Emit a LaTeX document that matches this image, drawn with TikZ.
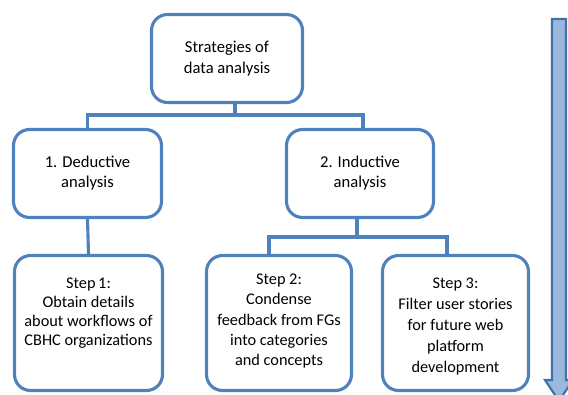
\documentclass[tikz,border=0pt]{standalone}
\usepackage{fontspec}
\setmainfont{Carlito}
\usetikzlibrary{calc}
\definecolor{boxblue}{HTML}{4F81BD}
\definecolor{arrowfill}{HTML}{9AB7DE}
\definecolor{arrowdraw}{HTML}{4470A8}
\begin{document}
\begin{tikzpicture}[x=1pt,y=-1pt,
  box/.style={draw=boxblue, line width=3.1pt, rounded corners=16pt, fill=white,
    align=center, inner sep=0pt, font=\fontsize{16.6}{21}\selectfont},
  conn/.style={draw=boxblue, line width=3.1pt},
  steptext/.style={anchor=north, align=center, inner sep=0pt}]
\useasboundingbox (0,0) rectangle (568,394);
% boxes
\node[box, minimum width=151pt, minimum height=88pt] (top) at (227,58.5) {Strategies of\\data analysis};
\node[box, minimum width=148pt, minimum height=88pt, font=\fontsize{16.6}{20}\selectfont] (ded) at (87.5,173.5) {1. Deductive\\analysis};
\node[box, minimum width=147pt, minimum height=88pt, font=\fontsize{16.6}{20}\selectfont] (ind) at (360,173.5) {2. Inductive\\analysis};
\node[box, minimum width=148pt, minimum height=135pt] (s1) at (88.5,323) {};
\node[box, minimum width=145pt, minimum height=135pt] (s2) at (279,323) {};
\node[box, minimum width=146pt, minimum height=135pt] (s3) at (455.5,323) {};
\node[steptext, font=\fontsize{16.3}{19}\selectfont] (t1) at (88.5,278) {Step\,1:\\Obtain details\\about workflows of\\CBHC organizations};
\node[steptext, font=\fontsize{16.3}{20.2}\selectfont] (t2) at (279,274) {Step 2:\\Condense\\feedback from FGs\\into categories\\and concepts};
\node[steptext, font=\fontsize{16.3}{21}\selectfont] (t3) at (455.5,278) {Step 3:\\Filter user stories\\for future web\\platform\\development};
% connectors
\coordinate (bus1) at (0,115);
\coordinate (bus2) at (0,237);
\draw[conn] ([xshift=8pt]top.south) -- ([xshift=8pt]top.south |- bus1);
\draw[conn] (ded.north) -- (ded.north |- bus1) -- ($(ind.north |- bus1)+(3,0)$) -- ($(ind.north)+(3,0)$);
\draw[conn] (ded.south) -- (s1.north);
\draw[conn] ([xshift=-3pt]ind.south) -- ([xshift=-3pt]ind.south |- bus2);
\draw[conn] ($(s2.north)+(-10,0)$) -- ($(s2.north |- bus2)+(-10,0)$) -- ($(s3.north |- bus2)+(-8.5,0)$) -- ($(s3.north)+(-8.5,0)$);
% progress arrow
\draw[draw=arrowdraw, fill=arrowfill, line width=2.2pt]
  (552,19) -- (566,19) -- (566,380) -- (573,380) -- (559,401) -- (545,380) -- (552,380) -- cycle;
\end{tikzpicture}
\end{document}
